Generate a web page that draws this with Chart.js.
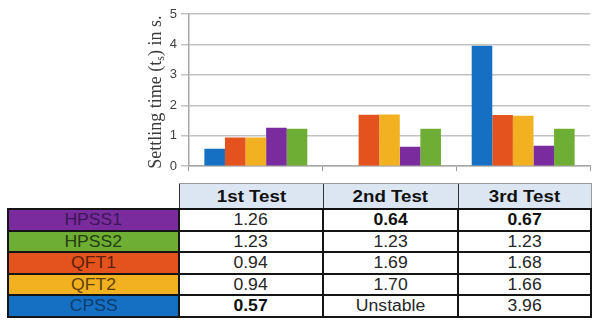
<!DOCTYPE html>
<html>
<head>
<meta charset="utf-8">
<script src="https://cdn.jsdelivr.net/npm/chart.js@4/dist/chart.umd.min.js"></script>
<style>
  html, body { margin: 0; padding: 0; background: #fff; }
  #wrap { position: relative; width: 592px; height: 322px; overflow: hidden; }
  #chartBox { position: absolute; left: 0; top: 0; width: 592px; height: 178px; }
  #tbl {
    position: absolute; left: 7px; top: 183px; width: 583px;
    border-collapse: collapse; table-layout: fixed;
    font-family: "Liberation Sans", Arial, sans-serif; font-size: 16px;
  }
  #tbl td, #tbl th { padding: 0; text-align: center; line-height: 17px; white-space: nowrap; }
  #tbl span { display: inline-block; transform: scaleX(1.1); }
  #tbl th {
    height: 24px; background: #dce6f2; color: #111; font-weight: bold; font-size: 17px;
    border-top: 1.5px solid #9a9a9a; border-left: 1.5px solid #333; border-bottom: 2px solid #111;
  }
  #tbl th.blank { background: #fff; border: none; }
  #tbl th.last { border-right: 1.5px solid #9a9a9a; }
  #tbl td { height: 19.5px; border: 2px solid #151515; color: #262626; background: #fff; }
  #tbl td.b { font-weight: bold; color: #111; }
</style>
</head>
<body>
<div id="wrap">
  <div id="chartBox"><canvas id="c"></canvas></div>
  <table id="tbl"></table>
</div>
<script>
// Test runs and settling times (seconds); null = the controller was unstable
const tests = ['1st Test', '2nd Test', '3rd Test'];
const cpss  = [0.57, null, 3.96];
const qft1  = [0.94, 1.69, 1.68];
const qft2  = [0.94, 1.70, 1.66];
const hpss1 = [1.26, 0.64, 0.67];
const hpss2 = [1.23, 1.23, 1.23];
const yTicks = [0, 1, 2, 3, 4, 5];

const series = [
  { name: 'CPSS',  data: cpss,  color: '#1570c4', text: '#0c3d6e' },
  { name: 'QFT1',  data: qft1,  color: '#e4531d', text: '#5c1f08' },
  { name: 'QFT2',  data: qft2,  color: '#f1b121', text: '#5e420a' },
  { name: 'HPSS1', data: hpss1, color: '#7a2b9e', text: '#3f1656' },
  { name: 'HPSS2', data: hpss2, color: '#6fae34', text: '#244010' }
];

// Rotated serif axis title with a subscript "s"
const axisTitle = {
  id: 'axisTitle',
  afterDraw(chart) {
    const ctx = chart.ctx;
    const area = chart.chartArea;
    const big = '18px "Liberation Serif", "Times New Roman", serif';
    const small = '12px "Liberation Serif", "Times New Roman", serif';
    const a = 'Settling time (t', s = 's', b = ') in s.';
    ctx.save();
    ctx.font = big; const wa = ctx.measureText(a).width, wb = ctx.measureText(b).width;
    ctx.font = small; const ws = ctx.measureText(s).width;
    const total = wa + ws + wb;
    ctx.translate(161, (area.top + area.bottom) / 2 + 2);
    ctx.rotate(-Math.PI / 2);
    ctx.fillStyle = '#3a3a3a';
    ctx.textBaseline = 'alphabetic';
    let x = -total / 2;
    ctx.font = big; ctx.fillText(a, x, 0); x += wa;
    ctx.font = small; ctx.fillText(s, x, 3); x += ws;
    ctx.font = big; ctx.fillText(b, x, 0);
    ctx.restore();
  }
};

new Chart(document.getElementById('c'), {
  type: 'bar',
  data: {
    labels: tests,
    datasets: series.map(s => ({
      label: s.name, data: s.data, backgroundColor: s.color, borderWidth: 0,
      categoryPercentage: 0.77, barPercentage: 1.0
    }))
  },
  options: {
    responsive: true, maintainAspectRatio: false, animation: false,
    layout: { padding: { left: 0, right: 2, top: 14, bottom: 0 } },
    plugins: { legend: { display: false }, tooltip: { enabled: false } },
    scales: {
      x: {
        grid: { offset: true, drawOnChartArea: false, drawTicks: true, tickLength: 5, color: '#9a9a9a', lineWidth: 1 },
        border: { color: '#a8a8a8', width: 1.5 },
        ticks: { display: false },
        afterFit(scale) { scale.height = 9; }
      },
      y: {
        min: 0, max: 5,
        afterBuildTicks(scale) { scale.ticks = yTicks.map(v => ({ value: v })); },
        grid: { color: '#c2c2c2', lineWidth: 1.5, tickLength: 8 },
        border: { color: '#a8a8a8', width: 1.5 },
        ticks: { color: '#404040', font: { family: '"Liberation Sans", Arial, sans-serif', size: 13 }, padding: 4 },
        afterFit(scale) { scale.width = 189; }
      }
    }
  },
  plugins: [axisTitle]
});

// Data table under the chart; fastest time in each test is set in bold
const tbl = document.getElementById('tbl');
const colW = [171, 144, 135, 133];
let html = '<colgroup>' + colW.map(w => `<col style="width:${w}px">`).join('') + '</colgroup>';
html += '<tr><th class="blank"></th>' + tests.map((t, i) =>
  `<th class="${i === tests.length - 1 ? 'last' : ''}"><span>${t}</span></th>`).join('') + '</tr>';
const mins = tests.map((_, i) => Math.min(...series.map(s => s.data[i]).filter(v => v !== null)));
const rowOrder = ['HPSS1', 'HPSS2', 'QFT1', 'QFT2', 'CPSS'];
rowOrder.forEach(name => {
  const s = series.find(x => x.name === name);
  html += `<tr><td style="background:${s.color};color:${s.text}"><span>${s.name}</span></td>`;
  s.data.forEach((v, i) => {
    const txt = v === null ? 'Unstable' : v.toFixed(2);
    html += `<td class="${v === mins[i] ? 'b' : ''}"><span>${txt}</span></td>`;
  });
  html += '</tr>';
});
tbl.innerHTML = html;
</script>
</body>
</html>
